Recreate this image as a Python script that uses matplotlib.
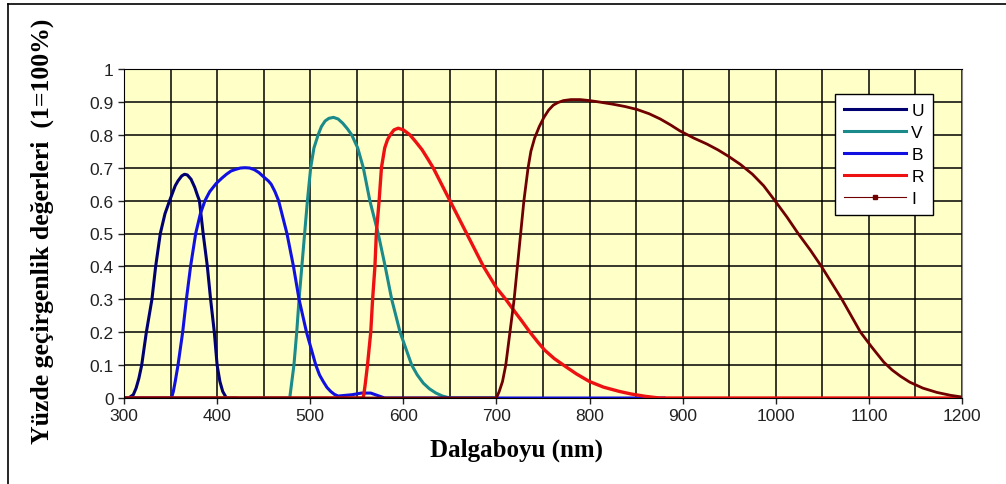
import matplotlib
matplotlib.use("Agg")
import matplotlib.pyplot as plt
from matplotlib.lines import Line2D
from matplotlib.ticker import MultipleLocator

# Filter transmission curves (wavelength in nm, transmission 0-1)
U_nm = [300, 305, 310, 313, 316, 319, 324, 330, 334, 339, 344, 349, 355, 358, 362, 365, 368,
        372, 376, 379, 381, 385, 389.5, 393, 397, 400, 403, 406, 410, 420]
U_val = [0, 0, 0.01, 0.03, 0.06, 0.1, 0.2, 0.3, 0.4, 0.5, 0.56, 0.6, 0.645, 0.66, 0.675, 0.68, 0.678,
         0.665, 0.64, 0.615, 0.6, 0.5, 0.4, 0.3, 0.2, 0.1, 0.05, 0.02, 0, 0]

V_nm = [300, 478, 482.5, 485.5, 488, 491, 494, 497, 500.5, 504, 508.5, 512, 516, 520, 525, 530,
        535, 540, 544.5, 551, 557, 564, 573, 580.5, 587.5, 596.5, 609, 615, 621.5, 628, 635,
        642, 650, 700]
V_val = [0, 0, 0.1, 0.2, 0.3, 0.4, 0.5, 0.6, 0.7, 0.76, 0.8, 0.825, 0.842, 0.85, 0.853, 0.848,
         0.835, 0.818, 0.8, 0.76, 0.7, 0.6, 0.5, 0.4, 0.3, 0.2, 0.1, 0.07, 0.045, 0.028, 0.015,
         0.006, 0, 0]

B_nm = [300, 351, 353, 355, 358, 363, 367, 371.5, 377, 382, 387, 392, 399, 405, 410, 415, 420,
        425, 430, 435, 440, 445, 450, 455, 458, 462, 466, 475, 482, 488, 496, 506, 510, 514,
        518, 522, 526, 530, 545, 555, 565, 575, 580, 880]
B_val = [0, 0, 0.02, 0.05, 0.1, 0.2, 0.3, 0.4, 0.5, 0.56, 0.6, 0.627, 0.652, 0.668, 0.68, 0.69,
         0.695, 0.699, 0.70, 0.699, 0.694, 0.685, 0.672, 0.66, 0.65, 0.628, 0.6, 0.5, 0.4, 0.3,
         0.2, 0.1, 0.07, 0.05, 0.032, 0.02, 0.011, 0.006, 0.01, 0.015, 0.015, 0.005, 0, 0]

R_nm = [300, 557, 559, 561.5, 565, 567, 569.5, 571, 574, 576.5, 580, 583, 586, 590, 594.5, 600,
        607, 613, 620, 626, 632, 650, 668, 686, 700, 710, 719, 727, 736, 745, 752, 762, 772,
        786, 800, 815, 832, 845, 860, 875, 1200]
R_val = [0, 0, 0.04, 0.1, 0.2, 0.3, 0.4, 0.5, 0.6, 0.7, 0.76, 0.785, 0.8, 0.815, 0.82, 0.815,
         0.8, 0.78, 0.755, 0.728, 0.7, 0.6, 0.5, 0.4, 0.335, 0.3, 0.265, 0.235, 0.2, 0.168, 0.145,
         0.12, 0.1, 0.073, 0.05, 0.033, 0.02, 0.012, 0.005, 0, 0]

I_nm = [300, 700, 703, 706.5, 710, 714.5, 719, 722.5, 726, 729.5, 734, 737, 741, 746, 751,
        756, 761, 766, 772, 780, 790, 800, 812, 825, 838, 851, 864, 876, 887, 897, 912, 926,
        938, 949, 962, 975, 987, 999, 1012, 1024, 1037, 1049, 1060, 1071, 1081, 1091, 1103,
        1116, 1125, 1134, 1144, 1158, 1173, 1188, 1200]
I_val = [0, 0, 0.02, 0.05, 0.1, 0.2, 0.3, 0.4, 0.5, 0.6, 0.7, 0.75, 0.79, 0.825, 0.853,
         0.875, 0.89, 0.898, 0.904, 0.907, 0.907, 0.904, 0.899, 0.893, 0.886, 0.877, 0.864, 0.848,
         0.83, 0.812, 0.79, 0.772, 0.754, 0.735, 0.71, 0.68, 0.645, 0.6, 0.55, 0.5, 0.45, 0.4,
         0.35, 0.3, 0.25, 0.2, 0.155, 0.109, 0.085, 0.066, 0.048, 0.03, 0.017, 0.008, 0.003]

series_names = ["U", "V", "B", "R", "I"]
colors = {"U": "#000070", "V": "#1a8a8a", "B": "#1010E0", "R": "#EE1111", "I": "#700000"}

fig = plt.figure(figsize=(10.06, 4.85), dpi=100)
ax = fig.add_axes([124 / 1006, 1 - 399 / 485, 838 / 1006, 329 / 485])
ax.set_facecolor("#FFFFC8")

ax.plot(U_nm, U_val, color=colors["U"], lw=2.2, label="U")
ax.plot(V_nm, V_val, color=colors["V"], lw=2.2, label="V")
ax.plot(B_nm, B_val, color=colors["B"], lw=2.2, label="B")
ax.plot(R_nm, R_val, color=colors["R"], lw=2.4, label="R")
ax.plot(I_nm, I_val, color=colors["I"], lw=2.0, label="I")

ax.set_xlim(300, 1200)
ax.set_ylim(0, 1)
ax.xaxis.set_major_locator(MultipleLocator(100))
ax.xaxis.set_minor_locator(MultipleLocator(50))
ax.yaxis.set_major_locator(MultipleLocator(0.1))
ax.grid(True, which="both", color="black", lw=1.1)
ax.set_axisbelow(True)
ax.tick_params(which="minor", length=0)
ax.tick_params(which="major", length=4, width=1, direction="out", colors="#222222",
               labelsize=12.5)
ax.set_yticks([0, 0.1, 0.2, 0.3, 0.4, 0.5, 0.6, 0.7, 0.8, 0.9, 1])
ax.set_yticklabels(["0", "0.1", "0.2", "0.3", "0.4", "0.5", "0.6", "0.7", "0.8", "0.9", "1"])
for lab in ax.get_xticklabels() + ax.get_yticklabels():
    lab.set_family("Liberation Sans")
for side in ["left", "bottom", "top"]:
    ax.spines[side].set_color("black")
ax.spines["right"].set_color("#888888")

fig.text(516 / 1006, 1 - 450 / 485, "Dalgaboyu (nm)", ha="center", va="center",
         family="Liberation Serif", weight="bold", fontsize=18)
fig.text(42 / 1006, 1 - 231 / 485, "Yüzde geçirgenlik değerleri  (1=100%)", rotation=90,
         ha="center", va="center", family="Liberation Serif", weight="bold", fontsize=18.5)

handles = [Line2D([], [], color=colors[n], lw=2.2) for n in series_names[:4]]
handles.append(Line2D([], [], color=colors["I"], lw=0.8, marker="s", markersize=2.5))
leg = ax.legend(handles, series_names, loc="upper left",
                bbox_to_anchor=(835 / 1006, 1 - 95 / 485), bbox_transform=fig.transFigure,
                frameon=True, fancybox=False, framealpha=1, edgecolor="black",
                prop={"family": "Liberation Sans", "size": 12.5}, handlelength=3.6,
                handletextpad=0.3, labelspacing=0.4, borderpad=0.5, borderaxespad=0)
leg.get_frame().set_linewidth(1.0)

# outer frame (left and top edges visible in the reference)
fig.add_artist(Line2D([8 / 1006, 8 / 1006], [0, 1 - 5 / 485], color="black", lw=1.2,
                      transform=fig.transFigure))
fig.add_artist(Line2D([8 / 1006, 1], [1 - 5 / 485, 1 - 5 / 485], color="black", lw=1.2,
                      transform=fig.transFigure))

fig.savefig("out.png", dpi=100)
